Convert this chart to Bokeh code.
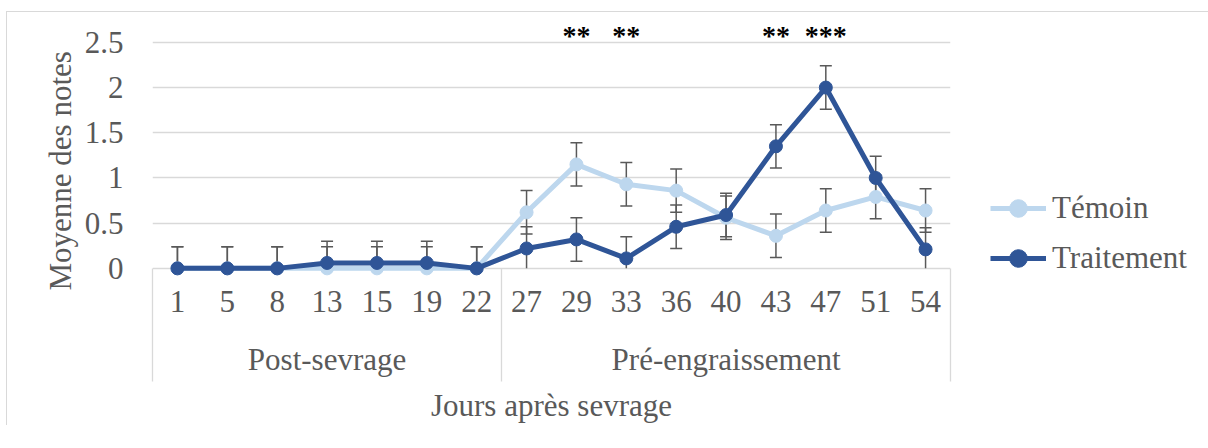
from bokeh.plotting import figure
from bokeh.models import Range1d, FixedTicker, LinearAxis, Legend, LegendItem, NumeralTickFormatter, Title
from bokeh.core.properties import value
from bokeh.embed import file_html
from bokeh.resources import INLINE

# ---- data ----
days = ["1", "5", "8", "13", "15", "19", "22", "27", "29", "33", "36", "40", "43", "47", "51", "54"]
periods = ["Post-sevrage", "Pré-engraissement"]
period_sizes = [7, 9]
temoin = [0, 0, 0, 0, 0, 0, 0, 0.62, 1.15, 0.93, 0.86, 0.56, 0.36, 0.64, 0.79, 0.64]
traitement = [0, 0, 0, 0.06, 0.06, 0.06, 0, 0.22, 0.32, 0.11, 0.46, 0.59, 1.35, 2.0, 1.0, 0.21]
err_temoin = [0.24, 0.24, 0.24, 0.24, 0.24, 0.24, 0.24, 0.24, 0.24, 0.24, 0.24, 0.24, 0.24, 0.24, 0.24, 0.24]
err_traitement = [0.24, 0.24, 0.24, 0.24, 0.24, 0.24, 0.24, 0.24, 0.24, 0.24, 0.24, 0.24, 0.24, 0.24, 0.24, 0.24]
signif_days = ["29", "33", "43", "47"]
signif_marks = ["**", "**", "**", "***"]
y_ticks = [0, 0.5, 1, 1.5, 2, 2.5]

FONT = "Liberation Serif"
TXT = "#595959"
GRID = "#d9d9d9"
LIGHT = "#BDD7EE"
DARK = "#2F5597"

n = len(days)
xs = [i + 0.5 for i in range(n)]
px_per_unit = 90.4
frame_h = 256
y0 = -0.09

p = figure(frame_width=798, frame_height=frame_h, min_border_left=145, min_border_right=258,
           min_border_top=8, min_border_bottom=5,
           x_range=Range1d(0, n), y_range=Range1d(y0, y0 + frame_h / px_per_unit),
           x_axis_location=None, output_backend="svg", toolbar_location=None)
p.styles = {"margin-top": "11px", "margin-left": "6px",
            "border-top": "1px solid #d9d9d9", "border-left": "1px solid #d9d9d9"}
p.outline_line_color = None
p.background_fill_color = "white"
p.border_fill_color = "white"
p.xgrid.visible = False

# y axis (tick labels)
yax = p.yaxis[0]
yax.ticker = FixedTicker(ticks=y_ticks)
yax.formatter = NumeralTickFormatter(format="0.[0]")
yax.axis_line_color = None
yax.major_tick_line_color = None
yax.minor_tick_line_color = None
yax.major_tick_out = 0
yax.major_label_standoff = 29
yax.major_label_text_font = FONT
yax.major_label_text_font_size = "31px"
yax.major_label_text_color = TXT
p.ygrid.ticker = FixedTicker(ticks=y_ticks)
p.ygrid.grid_line_color = GRID
p.ygrid.grid_line_width = 1.3

# y axis title (as a side title so that it can be shifted like the reference)
ytitle = Title(text="Moyenne des notes", align="left", offset=-14, standoff=7,
               text_font=FONT, text_font_size="31px", text_font_style="normal", text_color=TXT)
p.add_layout(ytitle, "left")

# x axis: day labels + group separators (minor ticks)
bounds = [0]
for s in period_sizes:
    bounds.append(bounds[-1] + s)
ax1 = LinearAxis(ticker=FixedTicker(ticks=xs, minor_ticks=bounds),
                 major_label_overrides={x: d for x, d in zip(xs, days)})
ax1.axis_line_color = None
ax1.major_tick_line_color = None
ax1.major_tick_out = 0
ax1.major_tick_in = 0
ax1.minor_tick_line_color = GRID
ax1.minor_tick_line_width = 1.3
ax1.minor_tick_in = 8
ax1.minor_tick_out = 105
ax1.major_label_standoff = -91
ax1.major_label_text_font = FONT
ax1.major_label_text_font_size = "31px"
ax1.major_label_text_color = TXT
p.add_layout(ax1, "below")

group_centers = [(bounds[i] + bounds[i + 1]) / 2 for i in range(len(periods))]
ax2 = LinearAxis(ticker=FixedTicker(ticks=group_centers),
                 major_label_overrides={c: g for c, g in zip(group_centers, periods)})
ax2.axis_line_color = None
ax2.major_tick_line_color = None
ax2.minor_tick_line_color = None
ax2.major_tick_out = 0
ax2.major_tick_in = 0
ax2.major_label_standoff = 27
ax2.major_label_text_font = FONT
ax2.major_label_text_font_size = "31px"
ax2.major_label_text_color = TXT
ax2.axis_label = "Jours après sevrage"
ax2.axis_label_text_font = FONT
ax2.axis_label_text_font_size = "31px"
ax2.axis_label_text_font_style = "normal"
ax2.axis_label_text_color = TXT
ax2.axis_label_standoff = 8
p.add_layout(ax2, "below")

# error bars
def add_errors(vals, errs):
    lo = [max(v - e, 0) for v, e in zip(vals, errs)]
    hi = [v + e for v, e in zip(vals, errs)]
    p.segment(x0=xs, y0=lo, x1=xs, y1=hi, line_color=TXT, line_width=1.5)
    p.scatter(x=xs, y=hi, marker="dash", size=12, line_color=TXT, line_width=1.5)
    lx = [x for x, v, e in zip(xs, vals, errs) if v - e >= 0]
    ly = [v - e for v, e in zip(vals, errs) if v - e >= 0]
    p.scatter(x=lx, y=ly, marker="dash", size=12, line_color=TXT, line_width=1.5)

add_errors(temoin, err_temoin)
add_errors(traitement, err_traitement)

l1 = p.line(xs, temoin, line_color=LIGHT, line_width=5)
m1 = p.scatter(xs, temoin, size=13, fill_color=LIGHT, line_color=LIGHT)
l2 = p.line(xs, traitement, line_color=DARK, line_width=5)
m2 = p.scatter(xs, traitement, size=13, fill_color=DARK, line_color=DARK)

# significance marks
sx = [xs[days.index(d)] for d in signif_days]
p.text(x=sx, y=[2.58] * len(sx), text=signif_marks, text_font=value(FONT),
       text_font_size="28px", text_font_style="bold", text_align="center",
       text_baseline="middle", text_color="black")

legend = Legend(items=[LegendItem(label="Témoin", renderers=[l1, m1]),
                       LegendItem(label="Traitement", renderers=[l2, m2])],
                location=(40, -4), orientation="vertical",
                glyph_width=56, glyph_height=44, label_height=44, label_standoff=6,
                spacing=6, padding=0, margin=0, border_line_color=None,
                background_fill_alpha=0,
                label_text_font=FONT, label_text_font_size="31px", label_text_color=TXT)
p.add_layout(legend, "right")

open("out.html", "w").write(file_html(p, INLINE))
